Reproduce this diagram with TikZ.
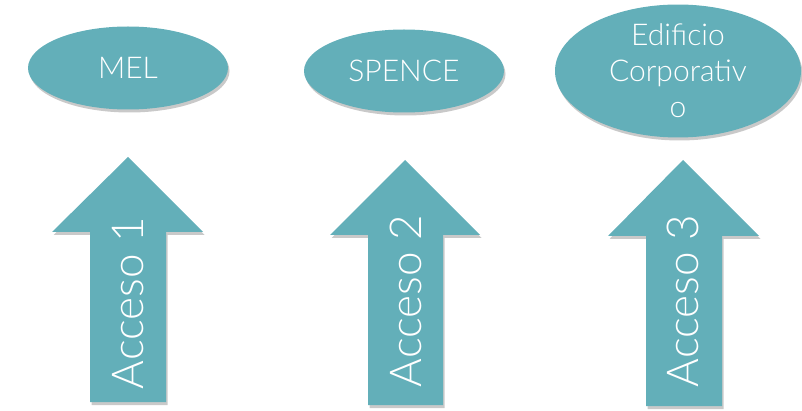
\documentclass[tikz,border=0pt]{standalone}
\usepackage{fontspec}
\setmainfont{Lato Light}
\usetikzlibrary{shapes.geometric,shadows}
\definecolor{tealfill}{HTML}{63AFB9}
\tikzset{
  shade3/.style={drop shadow={shadow xshift=1.5pt,shadow yshift=-3pt,opacity=0.3,fill=black!70}},
  place/.style={ellipse,fill=tealfill,shade3,inner sep=0pt,text=white,font=\fontsize{30}{36}\selectfont,align=center},
  arrowbody/.style={fill=tealfill,shade3},
  arrowtext/.style={rotate=90,anchor=base,inner sep=0pt,text=white,font=\fontsize{44}{50}\selectfont}
}
\begin{document}
\begin{tikzpicture}[x=1pt,y=-1pt]
\useasboundingbox (0,0) rectangle (802,411);
% ellipses
\node[place,minimum width=200pt,minimum height=83pt] (mel) at (128,68) {MEL};
\node[place,minimum width=200pt,minimum height=83pt] (spence) at (404,71) {SPENCE};
\node[place,minimum width=246pt,minimum height=132pt] (edif) at (678,71) {Edificio\\Corporativ\\o};
% arrows
\path[arrowbody] (128,157) -- (203,232) -- (166,232) -- (166,402) -- (90,402) -- (90,232) -- (52,232) -- cycle;
\node[arrowtext] (a1) at (143,303) {Acceso 1};
\path[arrowbody] (405,160) -- (480,235) -- (443,235) -- (443,405) -- (368,405) -- (368,235) -- (330,235) -- cycle;
\node[arrowtext] (a2) at (421,301) {Acceso 2};
\path[arrowbody] (683,160) -- (759,236) -- (722,236) -- (722,406) -- (646,406) -- (646,236) -- (608,236) -- cycle;
\node[arrowtext] (a3) at (698,301) {Acceso 3};
\end{tikzpicture}
\end{document}
